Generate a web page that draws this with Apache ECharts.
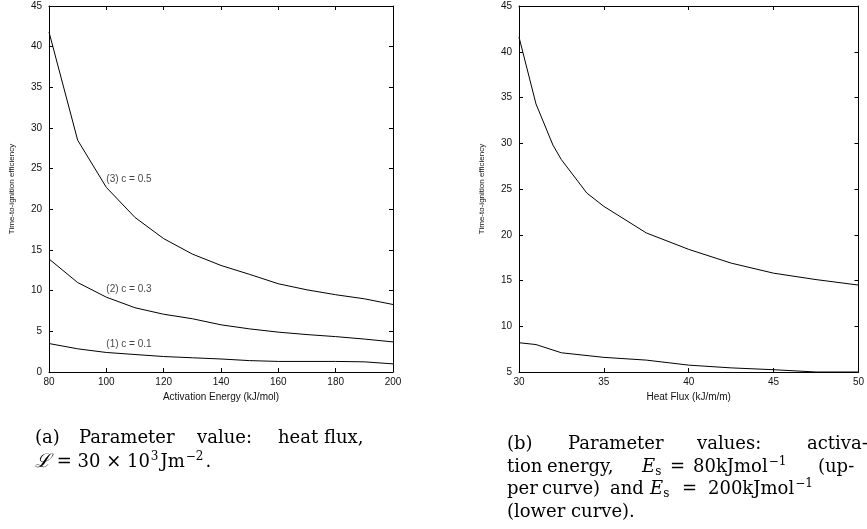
<!DOCTYPE html>
<html>
<head>
<meta charset="utf-8">
<script src="https://cdn.jsdelivr.net/npm/echarts@6/dist/echarts.min.js"></script>
<style>
	html, body { margin: 0; background: #fff; }
	#chart { width: 867px; height: 529px; }
</style>
</head>
<body>
<div id="chart"></div>
<script>
// (a) activation energy sweep
var energyX = [80, 90, 100, 110, 120, 130, 140, 150, 160, 170, 180, 190, 200];
var curveC01 = [3.5, 2.85, 2.4, 2.15, 1.9, 1.75, 1.6, 1.4, 1.3, 1.3, 1.3, 1.25, 1.0];
var curveC03 = [13.9, 11.0, 9.2, 7.9, 7.1, 6.55, 5.8, 5.3, 4.9, 4.6, 4.35, 4.05, 3.7];
var curveC05 = [41.8, 28.5, 22.7, 19.0, 16.4, 14.5, 13.1, 12.0, 10.85, 10.1, 9.5, 9.0, 8.3];
var curveNames = ['(1) c = 0.1', '(2) c = 0.3', '(3) c = 0.5'];
var curveNameAt = [[100, 3.4], [100, 10.2], [100, 23.7]];

// (b) heat flux sweep
var fluxUpperX = [30, 31, 32, 32.5, 34, 35, 37.5, 40, 42.5, 45, 47.5, 50];
var fluxUpper = [41.6, 34.3, 29.8, 28.2, 24.55, 23.1, 20.2, 18.4, 16.9, 15.8, 15.1, 14.5];
var fluxLowerX = [30, 31, 32.5, 35, 37.5, 40, 42.5, 45, 47.5, 50];
var fluxLower = [8.2, 8.0, 7.1, 6.6, 6.3, 5.75, 5.45, 5.25, 5.0, 5.0];

var yTitle = 'Time-to-ignition efficiency';
var xTitleA = 'Activation Energy (kJ/mol)';
var xTitleB = 'Heat Flux (kJ/m/m)';

function pairs(xs, ys) {
	return xs.map(function(x, i) {
		return [x, ys[i]];
	});
}

function makeAxis(gridIndex, min, max, interval, position, isMirror, name) {
	var axis = {
		type: 'value',
		gridIndex: gridIndex,
		min: min,
		max: max,
		interval: interval,
		position: position,
		splitLine: { show: false },
		axisLine: { show: true, onZero: false, lineStyle: { color: '#000', width: 1 } },
		axisTick: { show: true, inside: true, length: 4, lineStyle: { color: '#000' } },
		axisLabel: {
			show: !isMirror,
			color: '#111',
			fontSize: 10,
			fontFamily: 'Liberation Sans',
			margin: (position === 'left') ? 7 : 5
		}
	};
	if (name && !isMirror) {
		axis.name = name;
		axis.nameLocation = 'middle';
		axis.nameTextStyle = { color: '#111', fontFamily: 'Liberation Sans', fontSize: position === 'left' ? 8 : 10 };
		axis.nameGap = position === 'left' ? 33 : 19;
	}
	return axis;
}

function lineSeries(xi, data) {
	return {
		type: 'line',
		xAxisIndex: xi,
		yAxisIndex: xi,
		data: data,
		showSymbol: false,
		symbol: 'none',
		animation: false,
		lineStyle: { color: '#000', width: 1 }
	};
}

var series = [
	lineSeries(0, pairs(energyX, curveC01)),
	lineSeries(0, pairs(energyX, curveC03)),
	lineSeries(0, pairs(energyX, curveC05)),
	lineSeries(2, pairs(fluxUpperX, fluxUpper)),
	lineSeries(2, pairs(fluxLowerX, fluxLower))
];

// curve names on panel (a)
series.push({
	type: 'scatter',
	xAxisIndex: 0,
	yAxisIndex: 0,
	symbolSize: 0,
	animation: false,
	data: curveNameAt.map(function(p, i) {
		return { value: p, name: curveNames[i] };
	}),
	label: {
		show: true,
		position: 'right',
		distance: 0,
		formatter: '{b}',
		color: '#111',
		fontSize: 10,
		fontFamily: 'Liberation Sans'
	}
});

// captions, word by word so the justified spacing is kept
var serif = 'DejaVu Serif';
var rich = {
	sup: { fontSize: 12, fontFamily: serif, verticalAlign: 'top', lineHeight: 14, padding: [0, 2, 0, 1] },
	sub: { fontSize: 12, fontFamily: serif, verticalAlign: 'bottom', lineHeight: 14 },
	it: { fontSize: 18, fontFamily: serif, fontStyle: 'italic' },
	cal: { fontSize: 19, fontFamily: serif, fontStyle: 'italic' }
};
var captionWords = [
	['(a)', 35, 438], ['Parameter', 79, 438], ['value:', 197, 438], ['heat', 278, 438], ['flux,', 324, 438],
	['{cal|ℒ} = 30 × 10{sup|3}Jm{sup|−2}.', 35, 462],
	['(b)', 507, 444], ['Parameter', 568, 444], ['values:', 697, 444], ['activa-', 807, 444],
	['tion', 507, 467], ['energy,', 547, 467], ['{it|E}{sub|s}', 642, 467], ['=', 670, 467],
	['80kJmol{sup|−1}', 693, 467], ['(up-', 818, 467],
	['per', 507, 489], ['curve)', 542, 489], ['and', 610, 489], ['{it|E}{sub|s}', 650, 489], ['=', 682, 489],
	['200kJmol{sup|−1}', 708, 489],
	['(lower curve).', 507, 512]
];
var graphic = captionWords.map(function(w) {
	return {
		type: 'text',
		x: w[1],
		y: w[2],
		style: {
			text: w[0],
			fill: '#000',
			fontSize: 18,
			fontFamily: serif,
			lineHeight: 22,
			verticalAlign: 'middle',
			rich: rich
		}
	};
});

var option = {
	animation: false,
	grid: [
		{ left: 49, top: 6, width: 344, height: 366 },
		{ left: 519, top: 6, width: 344, height: 366 }
	],
	xAxis: [
		makeAxis(0, 80, 200, 20, 'bottom', false, xTitleA),
		makeAxis(0, 80, 200, 20, 'top', true),
		makeAxis(1, 30, 50, 5, 'bottom', false, xTitleB),
		makeAxis(1, 30, 50, 5, 'top', true)
	],
	yAxis: [
		makeAxis(0, 0, 45, 5, 'left', false, yTitle),
		makeAxis(0, 0, 45, 5, 'right', true),
		makeAxis(1, 5, 45, 5, 'left', false, yTitle),
		makeAxis(1, 5, 45, 5, 'right', true)
	],
	series: series,
	graphic: graphic
};

var chart = echarts.init(document.getElementById('chart'));
chart.setOption(option);
</script>
</body>
</html>
